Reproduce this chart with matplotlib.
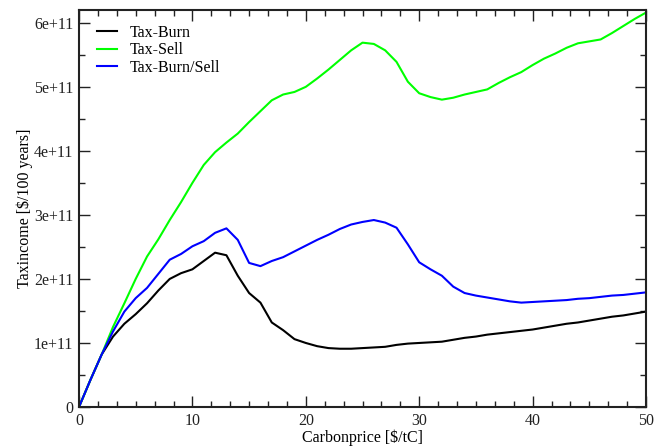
#!/usr/bin/env python3
"""Tax income vs carbon price for the three tax schemes (xmgrace-style plot)."""

import matplotlib
matplotlib.use("Agg")
import matplotlib.pyplot as plt
import numpy as np
from matplotlib.ticker import FuncFormatter, MultipleLocator, AutoMinorLocator

# carbon price [$/tC]
price = list(range(0, 51))

# tax income in units of 1e11 $/100 years
burn = [0.00, 0.42, 0.82, 1.10, 1.30, 1.45, 1.62, 1.82, 2.00, 2.09,
        2.15, 2.28, 2.41, 2.37, 2.05, 1.78, 1.63, 1.32, 1.20, 1.06,
        1.00, 0.95, 0.92, 0.91, 0.91, 0.92, 0.93, 0.94, 0.97, 0.99,
        1.00, 1.01, 1.02, 1.05, 1.08, 1.10, 1.13, 1.15, 1.17, 1.19,
        1.21, 1.24, 1.27, 1.30, 1.32, 1.35, 1.38, 1.41, 1.43, 1.46,
        1.49]
sell = [0.00, 0.42, 0.82, 1.25, 1.62, 2.00, 2.35, 2.62, 2.92, 3.20,
        3.50, 3.78, 3.98, 4.13, 4.27, 4.45, 4.62, 4.79, 4.88, 4.92,
        5.00, 5.13, 5.27, 5.42, 5.57, 5.69, 5.67, 5.57, 5.39, 5.08,
        4.90, 4.84, 4.80, 4.83, 4.88, 4.92, 4.96, 5.06, 5.15, 5.23,
        5.34, 5.44, 5.52, 5.61, 5.68, 5.71, 5.74, 5.84, 5.95, 6.06,
        6.16]
burn_sell = [0.00, 0.42, 0.82, 1.18, 1.49, 1.70, 1.86, 2.08, 2.30, 2.39,
             2.51, 2.59, 2.72, 2.79, 2.61, 2.25, 2.20, 2.28, 2.34, 2.43,
             2.52, 2.61, 2.69, 2.78, 2.85, 2.89, 2.92, 2.88, 2.80, 2.54,
             2.26, 2.15, 2.05, 1.88, 1.78, 1.74, 1.71, 1.68, 1.65, 1.63,
             1.64, 1.65, 1.66, 1.67, 1.69, 1.70, 1.72, 1.74, 1.75, 1.77,
             1.79]

labels = ["Tax-Burn", "Tax-Sell", "Tax-Burn/Sell"]
colors = ["black", "#00ff00", "#0000ff"]

plt.rcParams["font.family"] = ["Liberation Serif", "DejaVu Serif"]

fig = plt.figure(figsize=(6.65, 4.46), dpi=100)
ax = fig.add_axes([79 / 665, 1 - 407 / 446, (646 - 79) / 665, (407 - 10) / 446])

x = np.array(price)
for ys, lab, col in zip([burn, sell, burn_sell], labels, colors):
    ax.plot(x, np.array(ys) * 1e11, color=col, lw=1.5, label=lab)

ax.set_xlim(0, 50)
ax.set_ylim(0, 6.2e11)
ax.xaxis.set_major_locator(MultipleLocator(10))
ax.xaxis.set_minor_locator(AutoMinorLocator(6))
ax.yaxis.set_major_locator(MultipleLocator(1e11))
ax.yaxis.set_minor_locator(AutoMinorLocator(2))
ax.yaxis.set_major_formatter(
    FuncFormatter(lambda v, _: "0" if abs(v) < 1 else f"{v / 1e11:.0f}e+11"))

ax.tick_params(which="both", direction="in", top=True, right=True,
               labelsize=11.5, width=1.0, pad=4, colors="#222222")
ax.tick_params(which="major", length=8)
ax.tick_params(which="minor", length=4.1)
for sp in ax.spines.values():
    sp.set_linewidth(1.5)
    sp.set_color("#222222")

ax.set_xlabel("Carbonprice [\\$/tC]", fontsize=11.5, labelpad=1)
ax.set_ylabel("Taxincome [\\$/100 years]", fontsize=11.5, labelpad=1)

ax.legend(loc="upper left", frameon=False, fontsize=11.5, handlelength=1.3,
          handletextpad=0.8, labelspacing=0.08, borderaxespad=0.7,
          bbox_to_anchor=(0.0, 1.0 + 2.5 / 397))

fig.savefig("out.png", dpi=100)
